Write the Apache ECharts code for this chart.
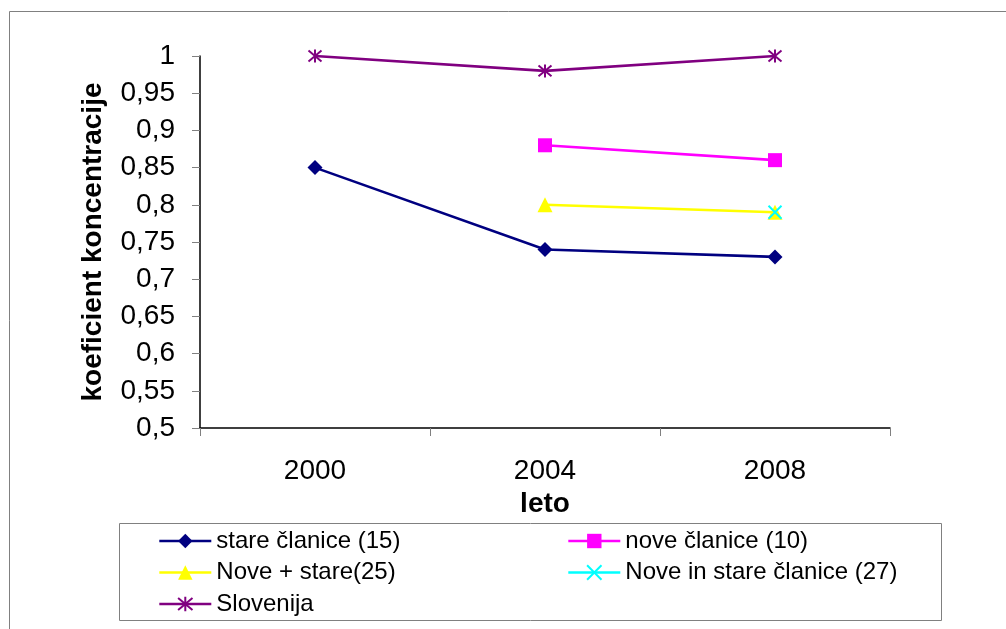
<!DOCTYPE html>
<html>
<head>
<meta charset="utf-8">
<script src="https://cdn.jsdelivr.net/npm/echarts@6/dist/echarts.min.js"></script>
<style>
  html, body { margin: 0; padding: 0; background: #fff; }
  #chart { width: 1006px; height: 629px; }
</style>
</head>
<body>
<div id="chart"></div>
<script>
// Years on the category axis
const years = ['2000', '2004', '2008'];

// Concentration coefficient per group ('-' = no value for that year)
const stareClanice = [0.85, 0.74, 0.73];
const noveClanice = ['-', 0.88, 0.86];
const novePlusStare = ['-', 0.80, 0.79];
const noveInStare = ['-', '-', 0.79];
const slovenija = [1.00, 0.98, 1.00];

// Value-axis tick labels (decimal comma), from 0.5 up to 1 in steps of 0.05
const yTickLabels = ['0,5', '0,55', '0,6', '0,65', '0,7', '0,75', '0,8', '0,85', '0,9', '0,95', '1'];

const FONT = '"Liberation Sans", Arial, sans-serif';

// Open strokes for the cross and asterisk markers
const crossPath = 'path://M0,0 L12,12 M12,0 L0,12';
const starPath = 'path://M6,0 L6,12 M0,1 L12,11 M12,1 L0,11';

function lineSeries(name, data, color, symbol, size, strokeOnly) {
  return {
    name: name,
    type: 'line',
    data: data,
    symbol: symbol,
    symbolSize: size,
    showSymbol: true,
    connectNulls: false,
    animation: false,
    lineStyle: { color: color, width: 2.6 },
    itemStyle: strokeOnly
      ? { color: color, borderColor: color, borderWidth: 2 }
      : { color: color, borderWidth: 0 },
    emphasis: { disabled: true }
  };
}

const legendCommon = {
  orient: 'vertical',
  top: 529,
  padding: 0,
  itemWidth: 52,
  itemHeight: 18,
  itemGap: 7.5,
  selectedMode: false,
  lineStyle: { width: 2.6 },
  textStyle: { fontFamily: FONT, fontSize: 24, color: '#000' }
};

const chart = echarts.init(document.getElementById('chart'), null, { renderer: 'canvas' });

chart.setOption({
  backgroundColor: '#ffffff',
  animation: false,
  textStyle: { fontFamily: FONT },
  grid: { left: 200, top: 56, width: 690, height: 372, containLabel: false },
  xAxis: {
    type: 'category',
    data: years,
    boundaryGap: true,
    name: 'leto',
    nameLocation: 'middle',
    nameGap: 45,
    nameTextStyle: { fontFamily: FONT, fontSize: 28, fontWeight: 'bold', color: '#000' },
    axisLine: { lineStyle: { color: '#000', width: 1.5 } },
    axisTick: { show: true, alignWithLabel: false, length: 8, lineStyle: { color: '#808080', width: 1 } },
    axisLabel: { fontFamily: FONT, fontSize: 28, color: '#000', margin: 29 },
    splitLine: { show: false }
  },
  yAxis: {
    type: 'value',
    min: 0.5,
    max: 1,
    interval: 0.05,
    name: 'koeficient koncentracije',
    nameLocation: 'middle',
    nameGap: 93,
    nameTextStyle: { fontFamily: FONT, fontSize: 28, fontWeight: 'bold', color: '#000' },
    axisLine: { show: true, lineStyle: { color: '#000', width: 1.5 } },
    axisTick: { show: true, length: 8, lineStyle: { color: '#808080', width: 1 } },
    axisLabel: {
      fontFamily: FONT,
      fontSize: 28,
      color: '#000',
      margin: 25,
      formatter: function (v) {
        return yTickLabels[Math.round((v - 0.5) / 0.05)];
      }
    },
    splitLine: { show: false }
  },
  legend: [
    Object.assign({}, legendCommon, {
      left: 158,
      data: ['stare članice (15)', 'Nove + stare(25)', 'Slovenija']
    }),
    Object.assign({}, legendCommon, {
      left: 567,
      data: ['nove članice (10)', 'Nove in stare članice (27)']
    })
  ],
  graphic: [
    {
      type: 'rect',
      silent: true,
      shape: { x: 9.5, y: 11.5, width: 1100, height: 700 },
      style: { fill: 'none', stroke: '#808080', lineWidth: 1 }
    },
    {
      type: 'rect',
      silent: true,
      shape: { x: 119.5, y: 523.5, width: 822, height: 97 },
      style: { fill: 'none', stroke: '#808080', lineWidth: 1 }
    }
  ],
  series: [
    lineSeries('stare članice (15)', stareClanice, '#000080', 'diamond', 15, false),
    lineSeries('nove članice (10)', noveClanice, '#FF00FF', 'rect', 14, false),
    lineSeries('Nove + stare(25)', novePlusStare, '#FFFF00', 'triangle', 15, false),
    lineSeries('Nove in stare članice (27)', noveInStare, '#00FFFF', crossPath, 13, true),
    lineSeries('Slovenija', slovenija, '#800080', starPath, 13, true)
  ]
});
</script>
</body>
</html>
